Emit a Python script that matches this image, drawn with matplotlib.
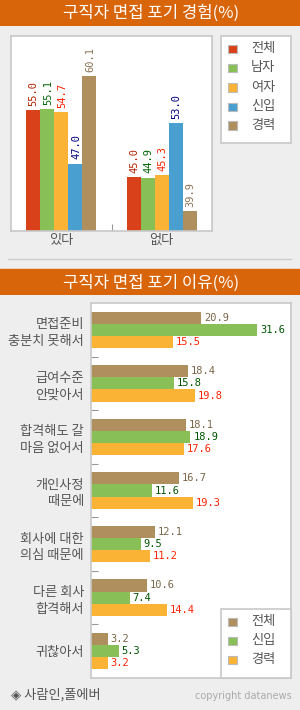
import matplotlib
matplotlib.use("Agg")
import matplotlib.pyplot as plt
from matplotlib.patches import Rectangle
import numpy as np

# ---------------- data ----------------
top_title = "구직자 면접 포기 경험(%)"
top_categories = ["있다", "없다"]
top_series = ["전체", "남자", "여자", "신입", "경력"]
top_values = {
    "전체": [55.0, 45.0],
    "남자": [55.1, 44.9],
    "여자": [54.7, 45.3],
    "신입": [47.0, 53.0],
    "경력": [60.1, 39.9],
}

bot_title = "구직자 면접 포기 이유(%)"
bot_categories = ["면접준비\n충분치 못해서", "급여수준\n안맞아서", "합격해도 갈\n마음 없어서",
                  "개인사정\n때문에", "회사에 대한\n의심 때문에", "다른 회사\n합격해서", "귀찮아서"]
bot_series = ["전체", "신입", "경력"]
bot_values = {
    "전체": [20.9, 18.4, 18.1, 16.7, 12.1, 10.6, 3.2],
    "신입": [31.6, 15.8, 18.9, 11.6, 9.5, 7.4, 5.3],
    "경력": [15.5, 19.8, 17.6, 19.3, 11.2, 14.4, 3.2],
}
source_text = "◈ 사람인,폴에버"
copyright_text = "copyright datanews"

# ---------------- style ----------------
W, H = 300, 710
BG = "#EEEEEE"
ORANGE_BAR = "#D9650A"
BORDER = "#C8C8C8"
GRAY_TXT = "#555555"
KR = ["Noto Sans CJK KR", "DejaVu Sans"]
MONO = ["DejaVu Sans Mono"]

top_colors = {"전체": "#D9411B", "남자": "#88C057", "여자": "#FBB336", "신입": "#4A9FD1", "경력": "#B08F5F"}
top_label_colors = {"전체": "#B22200", "남자": "#006600", "여자": "#FF2200", "신입": "#000080", "경력": "#8B7355"}
bot_colors = {"전체": "#B08F5F", "신입": "#88C057", "경력": "#FBB336"}
bot_label_colors = {"전체": "#7A6548", "신입": "#005500", "경력": "#FF2200"}

fig = plt.figure(figsize=(W / 100, H / 100), dpi=100)
fig.patch.set_facecolor(BG)


def rect(x0, y0, x1, y1):
    return [x0 / W, 1 - y1 / H, (x1 - x0) / W, (y1 - y0) / H]


def fx(x):
    return x / W


def fy(y):
    return 1 - y / H


def title_bar(y0, y1, text):
    fig.patches.append(Rectangle((0, fy(y1)), 1, (y1 - y0) / H, transform=fig.transFigure,
                                 facecolor=ORANGE_BAR, edgecolor="none", zorder=0))
    fig.text(0.505, fy((y0 + y1) / 2 + 0.5), text, color="white", fontsize=12, fontweight="medium",
             family=KR, ha="center", va="center")


def legend_box(x0, y0, x1, y1, names, colors, rows_y):
    fig.patches.append(Rectangle((fx(x0), fy(y1)), (x1 - x0) / W, (y1 - y0) / H, transform=fig.transFigure,
                                 facecolor="white", edgecolor=BORDER, linewidth=1.2, zorder=1))
    for n, yy in zip(names, rows_y):
        fig.patches.append(Rectangle((fx(228), fy(yy + 4.5)), 8.5 / W, 8.5 / H, transform=fig.transFigure,
                                     facecolor=colors[n], edgecolor="#BBBBBB", linewidth=0.8, zorder=2))
        fig.text(fx(251), fy(yy), n, family=KR, fontsize=9.5, color=GRAY_TXT, ha="left", va="center")


# ---------------- top chart ----------------
title_bar(0, 26, top_title)
ax1 = fig.add_axes(rect(11, 36, 212, 231))
ax1.set_facecolor("white")
x = np.arange(len(top_categories))
bw = 0.14
for i, s in enumerate(top_series):
    xs = x + (i - 2) * bw
    vals = top_values[s]
    ax1.bar(xs, vals, width=bw, color=top_colors[s], linewidth=0, zorder=2)
    for xi, v in zip(xs, vals):
        ax1.annotate(f"{v:.1f}", (xi, v), xytext=(0.5, 3), textcoords="offset points",
                     rotation=90, ha="center", va="bottom", fontsize=7.5, family=MONO,
                     color=top_label_colors[s])
ax1.set_xlim(-0.5, 1.5)
ax1.set_ylim(36.9, 66.1)
ax1.set_yticks([])
ax1.set_xticks(x)
ax1.set_xticklabels(top_categories, family=KR, fontsize=9.5, color=GRAY_TXT)
ax1.tick_params(axis="x", which="major", length=0, pad=2)
ax1.set_xticks([0.5], minor=True)
ax1.tick_params(axis="x", which="minor", length=5, direction="in", color="#999999", width=0.8)
for sp in ax1.spines.values():
    sp.set_color(BORDER)
    sp.set_linewidth(1.2)

legend_box(221, 36, 291, 143, top_series, top_colors, [48.5, 67.5, 87, 106.5, 125])

# separator
fig.lines.append(plt.Line2D([fx(8), fx(291)], [fy(259), fy(259)], transform=fig.transFigure,
                            color="#CCCCCC", linewidth=1))
fig.lines.append(plt.Line2D([0, 1], [fy(269), fy(269)], transform=fig.transFigure,
                            color=ORANGE_BAR, linewidth=1))

# ---------------- bottom chart ----------------
title_bar(270, 295, bot_title)
ax2 = fig.add_axes(rect(91, 303, 291, 678))
ax2.set_facecolor("white")
y = np.arange(len(bot_categories))
bh = 0.227
for i, s in enumerate(bot_series):
    ys = y + (i - 1) * bh
    vals = bot_values[s]
    ax2.barh(ys, vals, height=bh, color=bot_colors[s], linewidth=0, zorder=2)
    for yi, v in zip(ys, vals):
        ax2.annotate(f"{v:.1f}", (v, yi), xytext=(2, 0), textcoords="offset points",
                     ha="left", va="center", fontsize=7.5, family=MONO, color=bot_label_colors[s])
ax2.set_xlim(0, 38)
ax2.set_ylim(6.5, -0.5)
ax2.set_xticks([])
ax2.set_yticks(y)
ax2.set_yticklabels(bot_categories, family=KR, fontsize=9.5, color=GRAY_TXT, linespacing=1.35)
ax2.tick_params(axis="y", which="major", length=0, pad=5)
ax2.set_yticks(np.arange(0.5, len(bot_categories) - 1, 1), minor=True)
ax2.tick_params(axis="y", which="minor", length=5, direction="in", color="#999999", width=0.8)
for sp in ax2.spines.values():
    sp.set_color(BORDER)
    sp.set_linewidth(1.2)

legend_box(221, 609, 291, 678, bot_series, bot_colors, [621.5, 640.5, 659.5])

# footer
fig.text(fx(11), fy(695), source_text, family=KR, fontsize=9.5, color=GRAY_TXT, ha="left", va="center")
fig.text(fx(292), fy(696), copyright_text, family=["DejaVu Sans"], fontsize=7, color="#AAAAAA",
         ha="right", va="center")

fig.savefig("out.png", dpi=100, facecolor=BG)
